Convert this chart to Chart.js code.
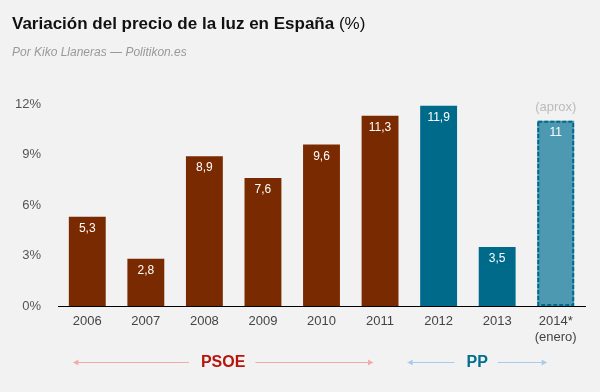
<!DOCTYPE html>
<html>
<head>
<meta charset="utf-8">
<script src="https://cdn.jsdelivr.net/npm/chart.js@4"></script>
<style>
  html, body { margin: 0; padding: 0; background: #f2f2f2; }
  #wrap { width: 600px; height: 392px; position: relative; }
</style>
</head>
<body>
<div id="wrap"><canvas id="myChart"></canvas></div>
<script>
const years = ['2006', '2007', '2008', '2009', '2010', '2011', '2012', '2013', ['2014*', '(enero)']];
const rises = [5.3, 2.8, 8.9, 7.6, 9.6, 11.3, 11.9, 3.5, 11];
const yTicks = [0, 3, 6, 9, 12];
const parties = [
  { name: 'PSOE', from: 0, to: 5, padL: -14, padR: -7, color: '#b5170e', arrow: '#f2aaa6' },
  { name: 'PP', from: 6, to: 8, padL: -31, padR: -9, color: '#036e8d', arrow: '#a9c9ef' }
];

const barColors = ['#7a2a00', '#7a2a00', '#7a2a00', '#7a2a00', '#7a2a00', '#7a2a00', '#006a8a', '#006a8a', '#4d99b1'];
const estimated = 8; // index of the dashed (approx) bar

const font = '"Liberation Sans", Arial, sans-serif';

// title, subtitle, value labels and party arrows
const extras = {
  id: 'extras',
  afterDatasetsDraw(chart) {
    const c = chart.ctx;
    const bar = chart.getDatasetMeta(0).data[estimated];
    const p = bar.getProps(['x', 'y', 'width', 'base'], true);
    c.save();
    c.strokeStyle = '#006a8a';
    c.lineWidth = 2;
    c.setLineDash([4, 2]);
    c.strokeRect(p.x - p.width / 2 + 1, p.y + 1, p.width - 2, p.base - p.y - 2);
    c.restore();
  },
  afterDraw(chart) {
    const c = chart.ctx;
    const xs = chart.scales.x;
    const meta = chart.getDatasetMeta(0);
    c.save();
    c.textBaseline = 'alphabetic';
    c.textAlign = 'left';
    c.fillStyle = '#111';
    c.font = 'bold 17px ' + font;
    const t = 'Variación del precio de la luz en España';
    c.fillText(t, 12, 29);
    const w = c.measureText(t).width;
    c.font = '17px ' + font;
    c.fillText(' (%)', 12 + w, 29);

    c.fillStyle = '#999';
    c.font = 'italic 12px ' + font;
    c.fillText('Por Kiko Llaneras — Politikon.es', 12, 56);

    // values in bars
    c.textAlign = 'center';
    c.textBaseline = 'middle';
    c.font = '12px ' + font;
    c.fillStyle = '#fff';
    meta.data.forEach((bar, i) => {
      c.fillText(String(rises[i]).replace('.', ','), bar.x, bar.y + 12);
    });
    c.textBaseline = 'alphabetic';
    const last = meta.data[estimated];
    c.fillStyle = '#bbb';
    c.font = '13px ' + font;
    c.fillText('(aprox)', last.x, last.y - 10);

    // party arrows
    const y = 362;
    parties.forEach(p => {
      const x1 = xs.getPixelForValue(p.from) + p.padL;
      const x2 = xs.getPixelForValue(p.to) + p.padR;
      const mid = (x1 + x2) / 2;
      c.font = 'bold 16px ' + font;
      const tw = c.measureText(p.name).width;
      c.strokeStyle = p.arrow;
      c.fillStyle = p.arrow;
      c.lineWidth = 1;
      c.beginPath();
      c.moveTo(x1, y + 0.5); c.lineTo(mid - tw / 2 - 12, y + 0.5);
      c.moveTo(mid + tw / 2 + 10, y + 0.5); c.lineTo(x2, y + 0.5);
      c.stroke();
      c.beginPath();
      c.moveTo(x1, y + 0.5); c.lineTo(x1 + 5, y - 2.5); c.lineTo(x1 + 5, y + 3.5); c.closePath();
      c.moveTo(x2, y + 0.5); c.lineTo(x2 - 5, y - 2.5); c.lineTo(x2 - 5, y + 3.5); c.closePath();
      c.fill();
      c.fillStyle = p.color;
      c.textBaseline = 'middle';
      c.fillText(p.name, mid, y + 1);
      c.textBaseline = 'alphabetic';
    });
    c.restore();
  }
};

const ctx = document.getElementById('myChart').getContext('2d');

new Chart(ctx, {
  type: 'bar',
  data: {
    labels: years,
    datasets: [{
      data: rises,
      backgroundColor: barColors,
      borderWidth: 0,
      barPercentage: 0.63,
      categoryPercentage: 1
    }]
  },
  options: {
    responsive: true,
    maintainAspectRatio: false,
    animation: false,
    layout: { padding: { top: 104, right: 15, left: 0, bottom: 0 } },
    plugins: {
      legend: { display: false },
      tooltip: { enabled: false }
    },
    scales: {
      x: {
        grid: { display: false, drawTicks: false },
        border: { display: true, color: '#000', width: 1 },
        ticks: { color: '#444', font: { family: font, size: 13 }, padding: 8, maxRotation: 0 },
        afterFit: (s) => { s.height = 86; }
      },
      y: {
        min: 0,
        max: 12,
        afterBuildTicks: (s) => { s.ticks = yTicks.map(v => ({ value: v })); },
        grid: { display: false, drawTicks: false },
        border: { display: false },
        ticks: { color: '#555', font: { family: font, size: 13 }, padding: 17, callback: v => v + '%' },
        afterFit: (s) => { s.width = 58; }
      }
    }
  },
  plugins: [extras]
});
</script>
</body>
</html>
